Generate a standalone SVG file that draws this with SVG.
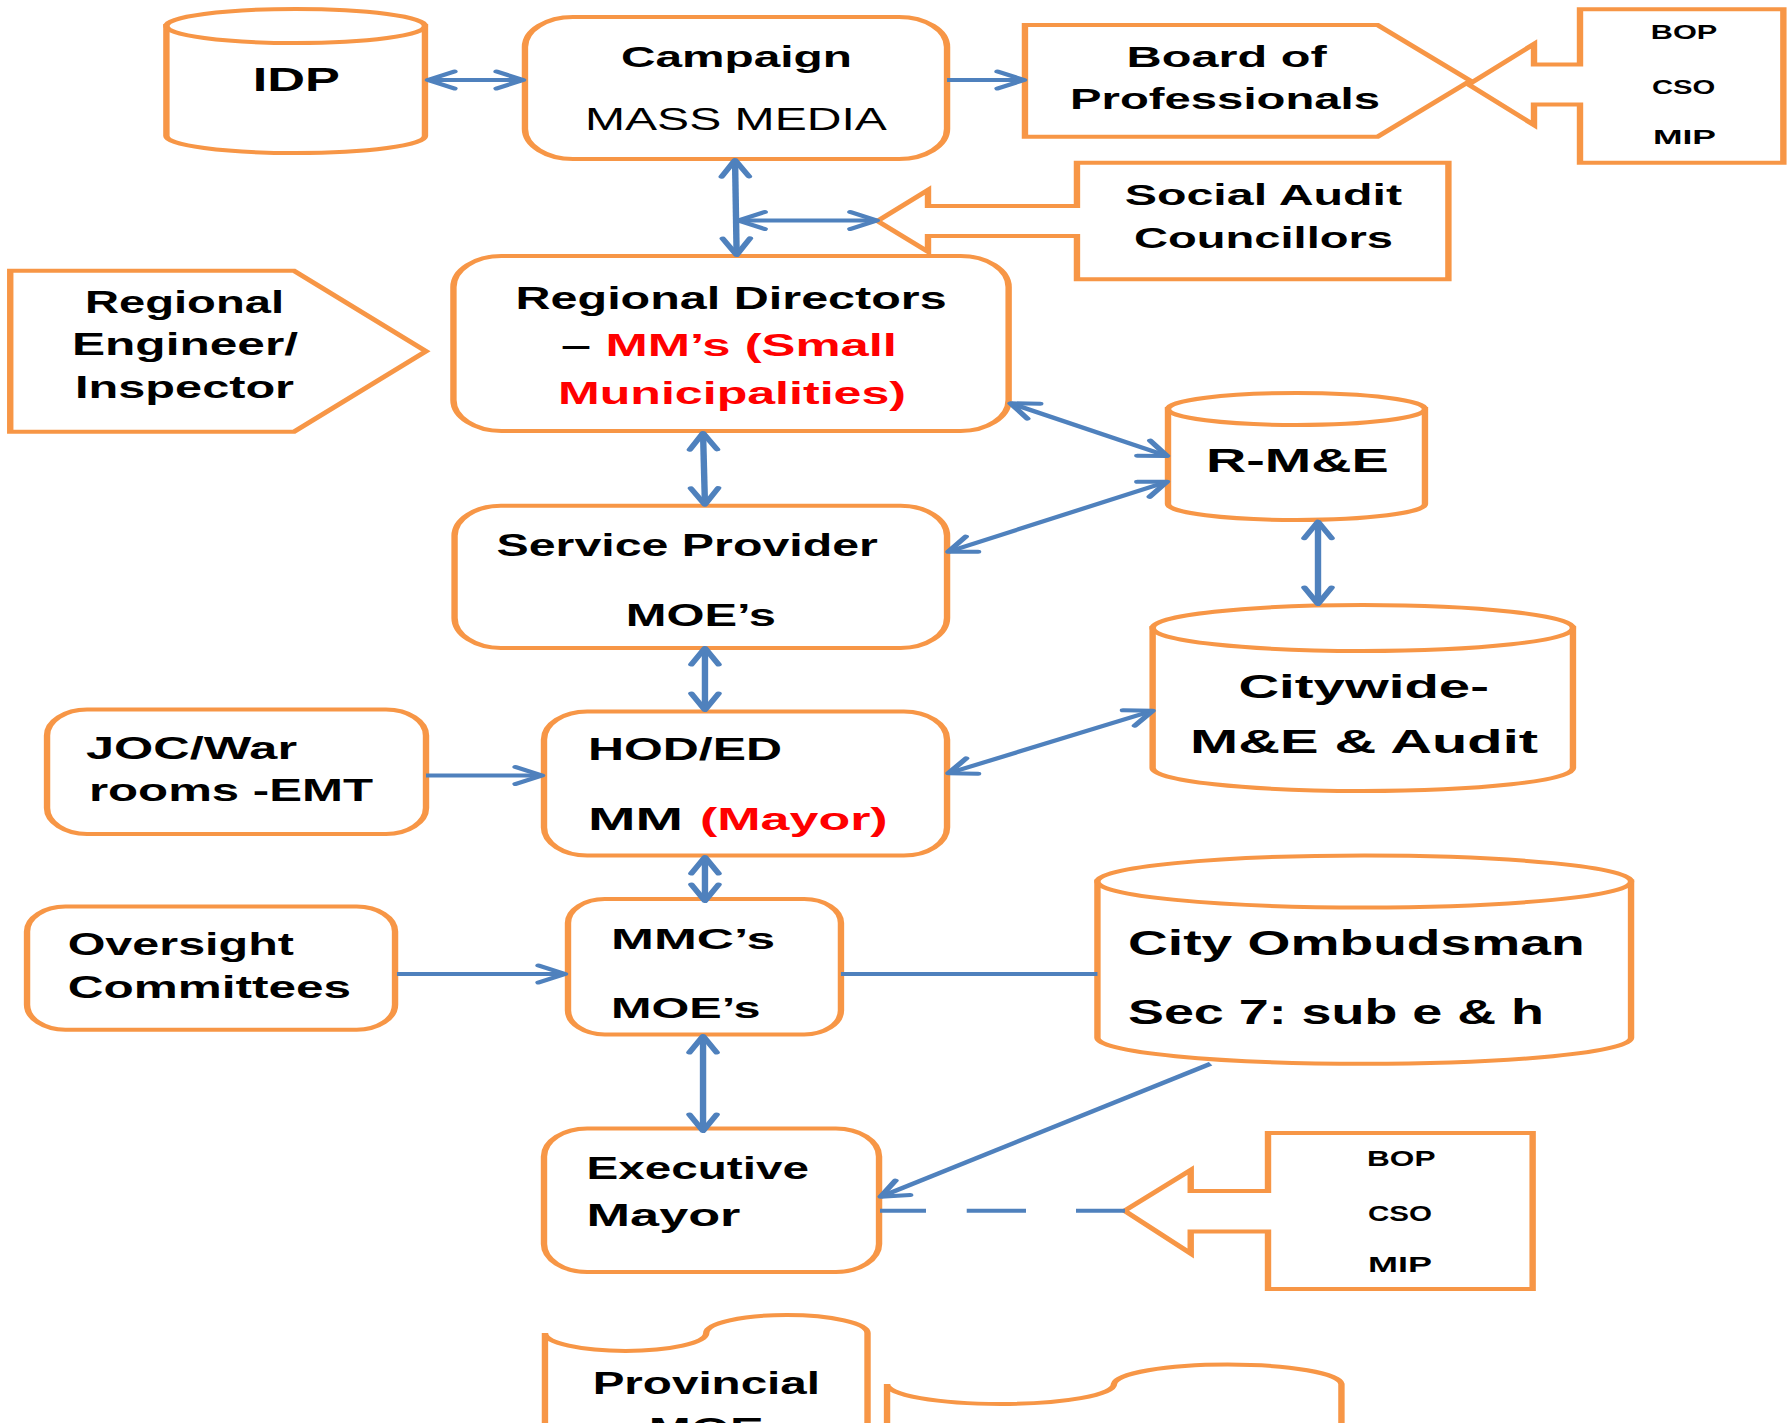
<svg xmlns="http://www.w3.org/2000/svg" width="1789" height="1423" viewBox="0 0 1789 1423">
<style>
.s{fill:#fff;stroke:#F79646;stroke-width:4;stroke-linejoin:miter}
.t{font-family:"Liberation Sans",Arial,sans-serif;font-weight:bold;fill:#000}
.n{font-family:"Liberation Sans",Arial,sans-serif;font-weight:normal;fill:#000}
.r{fill:#FF0000}
.c{fill:none;stroke:#4F81BD;stroke-width:4}
</style>
<defs>
<marker id="ah" markerUnits="userSpaceOnUse" viewBox="-22 -12 26 24" markerWidth="26" markerHeight="24" refX="0" refY="0" orient="auto-start-reverse" overflow="visible">
<path d="M-16.5,-8.5 L0,0 L-16.5,8.5" fill="none" stroke="#4F81BD" stroke-width="4" stroke-linecap="round" stroke-linejoin="round"/>
</marker>
</defs>
<rect x="0" y="0" width="1789" height="1423" fill="#fff"/>
<g transform="scale(1.6,1)">
<g id="idp">
<path class="s" d="M104,26 V136 A80.8,17 0 0 0 265.6,136 V26 Z"/>
<ellipse class="s" cx="184.8" cy="26" rx="80.8" ry="17"/>
<text class="t" x="157.9" y="90.7" font-size="33.5" textLength="54.5" lengthAdjust="spacingAndGlyphs">IDP</text>
</g>
<g id="campaign">
<rect class="s" x="328.1" y="17" width="263.8" height="142" rx="30" ry="30"/>
<text class="t" x="388.1" y="66.7" font-size="30" textLength="144.4" lengthAdjust="spacingAndGlyphs">Campaign</text>
<text class="n" x="365.6" y="130" font-size="30.5" textLength="188.75" lengthAdjust="spacingAndGlyphs">MASS MEDIA</text>
</g>
<g id="board">
<path class="s" d="M640.6,25 H861 L919,80.8 L861,136.7 H640.6 Z"/>
<text class="t" x="704.1" y="66.7" font-size="29.5" textLength="125.1" lengthAdjust="spacingAndGlyphs">Board of</text>
<text class="t" x="668.75" y="109.3" font-size="29.5" textLength="193.75" lengthAdjust="spacingAndGlyphs">Professionals</text>
</g>
<g id="bop-top">
<path class="s" d="M987.5,9.3 H1114.6 V162.7 H987.5 V104.5 H958.75 V125 L917.8,84.5 L958.75,44 V64.5 H987.5 Z"/>
<text class="t" x="1031.7" y="39.5" font-size="21" textLength="41.6" lengthAdjust="spacingAndGlyphs">BOP</text>
<text class="t" x="1032.5" y="94.5" font-size="21" textLength="39.6" lengthAdjust="spacingAndGlyphs">CSO</text>
<text class="t" x="1033.1" y="144.5" font-size="21" textLength="39.4" lengthAdjust="spacingAndGlyphs">MIP</text>
</g>
<g id="social-audit">
<path class="s" d="M673.1,162.7 H905.25 V279.3 H673.1 V236 H580 V251.7 L548.4,221 L580,190 V206 H673.1 Z"/>
<text class="t" x="703" y="205" font-size="29.3" textLength="173.3" lengthAdjust="spacingAndGlyphs">Social Audit</text>
<text class="t" x="708.75" y="248.3" font-size="29.3" textLength="161.9" lengthAdjust="spacingAndGlyphs">Councillors</text>
</g>
<g id="regional-engineer">
<path class="s" d="M6.4,270.7 H183.75 L266.25,351.2 L183.75,431.7 H6.4 Z"/>
<text class="t" x="53.1" y="313.5" font-size="30.7" textLength="124.4" lengthAdjust="spacingAndGlyphs">Regional</text>
<text class="t" x="45" y="355.5" font-size="30.7" textLength="141.25" lengthAdjust="spacingAndGlyphs">Engineer/</text>
<text class="t" x="46.9" y="397.7" font-size="30.7" textLength="136.9" lengthAdjust="spacingAndGlyphs">Inspector</text>
</g>
<g id="regional-directors">
<rect class="s" x="283.4" y="256" width="347" height="175" rx="30" ry="31"/>
<text class="t" x="322.2" y="309.4" font-size="31" textLength="269.5" lengthAdjust="spacingAndGlyphs">Regional Directors</text>
<text class="t" x="350.6" y="356.5" font-size="31" textLength="18.75" lengthAdjust="spacingAndGlyphs">–</text>
<text class="t r" x="378.5" y="356.5" font-size="31" textLength="182.1" lengthAdjust="spacingAndGlyphs">MM’s (Small</text>
<text class="t r" x="348.75" y="404" font-size="31" textLength="217.5" lengthAdjust="spacingAndGlyphs">Municipalities)</text>
</g>
<g id="rme">
<path class="s" d="M730,409 V504 A80.3,16 0 0 0 890.6,504 V409 Z"/>
<ellipse class="s" cx="810.3" cy="409" rx="80.3" ry="16"/>
<text class="t" x="753.75" y="471.7" font-size="32.5" textLength="114.2" lengthAdjust="spacingAndGlyphs">R-M&amp;E</text>
</g>
<g id="service-provider">
<rect class="s" x="284.1" y="505.8" width="307.8" height="142.2" rx="29" ry="30"/>
<text class="t" x="310.3" y="556.4" font-size="32" textLength="238.4" lengthAdjust="spacingAndGlyphs">Service Provider</text>
<text class="t" x="391.1" y="626" font-size="32" textLength="93.9" lengthAdjust="spacingAndGlyphs">MOE’s</text>
</g>
<g id="citywide">
<path class="s" d="M720.4,628 V768 A131.35,23 0 0 0 983.1,768 V628 Z"/>
<ellipse class="s" cx="851.75" cy="628" rx="131.35" ry="23"/>
<text class="t" x="774" y="698.3" font-size="32.5" textLength="156.6" lengthAdjust="spacingAndGlyphs">Citywide-</text>
<text class="t" x="743.75" y="752.7" font-size="32.5" textLength="217.5" lengthAdjust="spacingAndGlyphs">M&amp;E &amp; Audit</text>
</g>
<g id="joc">
<rect class="s" x="29.4" y="709.6" width="236.85" height="124.4" rx="25" ry="26"/>
<text class="t" x="53.75" y="759.4" font-size="31.3" textLength="131.9" lengthAdjust="spacingAndGlyphs">JOC/War</text>
<text class="t" x="55.6" y="801.5" font-size="31.3" textLength="177.5" lengthAdjust="spacingAndGlyphs">rooms -EMT</text>
</g>
<g id="hod">
<rect class="s" x="340" y="711.5" width="251.9" height="144" rx="27" ry="28"/>
<text class="t" x="367.5" y="760.5" font-size="31.4" textLength="121.25" lengthAdjust="spacingAndGlyphs">HOD/ED</text>
<text class="t" x="367.5" y="830" font-size="31.4" textLength="59.4" lengthAdjust="spacingAndGlyphs">MM</text>
<text class="t r" x="437.5" y="830" font-size="31.4" textLength="117.3" lengthAdjust="spacingAndGlyphs">(Mayor)</text>
</g>
<g id="oversight">
<rect class="s" x="16.9" y="906.6" width="230" height="123.2" rx="24" ry="25"/>
<text class="t" x="42.3" y="955.2" font-size="30.7" textLength="141.4" lengthAdjust="spacingAndGlyphs">Oversight</text>
<text class="t" x="42.3" y="998" font-size="30.7" textLength="177.1" lengthAdjust="spacingAndGlyphs">Committees</text>
</g>
<g id="mmc">
<rect class="s" x="355" y="899" width="170.6" height="135.5" rx="23" ry="24"/>
<text class="t" x="381.9" y="948.7" font-size="29.6" textLength="102.5" lengthAdjust="spacingAndGlyphs">MMC’s</text>
<text class="t" x="381.9" y="1018" font-size="29.6" textLength="93.4" lengthAdjust="spacingAndGlyphs">MOE’s</text>
</g>
<g id="ombudsman">
<path class="s" d="M685.9,881.5 V1037.8 A166.75,26 0 0 0 1019.4,1037.8 V881.5 Z"/>
<ellipse class="s" cx="852.65" cy="881.5" rx="166.75" ry="26"/>
<text class="t" x="705" y="955.2" font-size="34.6" textLength="285.4" lengthAdjust="spacingAndGlyphs">City Ombudsman</text>
<text class="t" x="705" y="1023.6" font-size="34.6" textLength="260" lengthAdjust="spacingAndGlyphs">Sec 7: sub e &amp; h</text>
</g>
<g id="executive-mayor">
<rect class="s" x="340" y="1128.4" width="209.4" height="143.6" rx="27" ry="28"/>
<text class="t" x="366.6" y="1178.9" font-size="30.7" textLength="139" lengthAdjust="spacingAndGlyphs">Executive</text>
<text class="t" x="366.6" y="1226.2" font-size="30.7" textLength="96.2" lengthAdjust="spacingAndGlyphs">Mayor</text>
</g>
<g id="bop-bottom">
<path class="s" d="M792.5,1133 H957.9 V1289 H792.5 V1231.5 H744.2 V1253.5 L702.8,1210.7 L744.2,1170 V1191 H792.5 Z"/>
<text class="t" x="854.4" y="1166" font-size="21.5" textLength="42.8" lengthAdjust="spacingAndGlyphs">BOP</text>
<text class="t" x="855" y="1221" font-size="21.5" textLength="40" lengthAdjust="spacingAndGlyphs">CSO</text>
<text class="t" x="855" y="1272" font-size="21.5" textLength="40" lengthAdjust="spacingAndGlyphs">MIP</text>
</g>
<g id="provincial">
<path class="s" d="M340.6,1333 A50.4,18 0 0 0 441.4,1333 A50.4,18 0 0 1 542.2,1333 V1445 H340.6 Z"/>
<text class="t" x="370.4" y="1394" font-size="30.7" textLength="142.1" lengthAdjust="spacingAndGlyphs">Provincial</text>
<text class="t" x="405.4" y="1440" font-size="30.7" textLength="71.9" lengthAdjust="spacingAndGlyphs">MOE</text>
</g>
<g id="tape2">
<path class="s" d="M554.4,1384 A70.9,20 0 0 0 696.25,1384 A71.1,20 0 0 1 838.4,1384 V1445 H554.4 Z"/>
</g>
<g id="connectors">
<path class="c" d="M267.5,80 H326.9" marker-start="url(#ah)" marker-end="url(#ah)"/>
<path class="c" d="M591.9,80 H640" marker-end="url(#ah)"/>
<path class="c" d="M459.4,160 L460.4,255" marker-start="url(#ah)" marker-end="url(#ah)"/>
<path class="c" d="M461.4,220.5 H548" marker-start="url(#ah)" marker-end="url(#ah)"/>
<path class="c" d="M439.4,433 L440.6,504.7" marker-start="url(#ah)" marker-end="url(#ah)"/>
<path class="c" d="M440.6,648 V710" marker-start="url(#ah)" marker-end="url(#ah)"/>
<path class="c" d="M266.25,775.5 H338.75" marker-end="url(#ah)"/>
<path class="c" d="M440.6,857 V901" marker-start="url(#ah)" marker-end="url(#ah)"/>
<path class="c" d="M248.1,974 H353.1" marker-end="url(#ah)"/>
<path class="c" d="M525.6,974 H685.9"/>
<path class="c" d="M439.4,1036 V1131" marker-start="url(#ah)" marker-end="url(#ah)"/>
<path class="c" d="M756.6,1063.8 L550.4,1196.7" marker-end="url(#ah)"/>
<path class="c" d="M550,1210.7 H578.75 M604.2,1210.7 H641.25 M672.5,1210.7 H703.1"/>
<path class="c" d="M631.6,403.3 L729.4,456" marker-start="url(#ah)" marker-end="url(#ah)"/>
<path class="c" d="M729.4,481.7 L592.75,551.7" marker-start="url(#ah)" marker-end="url(#ah)"/>
<path class="c" d="M823.75,521.7 V604" marker-start="url(#ah)" marker-end="url(#ah)"/>
<path class="c" d="M592.75,773.3 L720.4,710.7" marker-start="url(#ah)" marker-end="url(#ah)"/>
</g>
</g>
</svg>
